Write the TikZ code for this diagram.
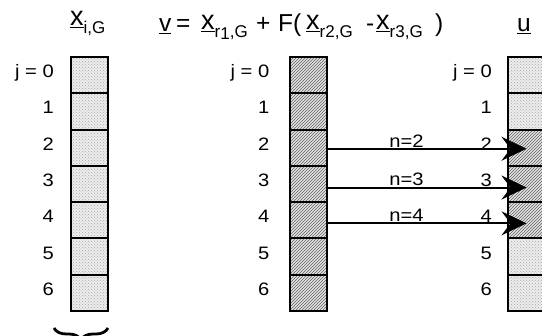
\documentclass[tikz,border=0pt]{standalone}
\usepackage{fontspec}
\setmainfont{Liberation Sans}
\newfontfamily\labfont[FakeStretch=1.12]{Liberation Sans}
\usetikzlibrary{patterns,arrows.meta,decorations.pathreplacing}

% underlined symbol with a firm rule
\newcommand\ulin[1]{\setbox0\hbox{#1}\rlap{\rule[-2.2pt]{\wd0}{1.3pt}}\box0}
% lowered, smaller subscript text
\newcommand\subtxt[1]{\raisebox{-8pt}{\fontsize{17}{17}\selectfont #1}}
% underlined vector x with a subscript
\newcommand\vecsub[1]{\ulin{\fontsize{27}{27}\selectfont x}\subtxt{#1}}

\begin{document}
\begin{tikzpicture}[x=1pt,y=-1pt,
  cell/.style={draw, line width=2pt, minimum width=37pt, minimum height=36.3pt,
    inner sep=0pt, outer sep=0pt},
  dotcell/.style={cell, preaction={fill=gray!14}, pattern=crosshatch dots,
    pattern color=gray!70},
  hatchcell/.style={cell, preaction={fill=gray!22}, pattern=north east lines,
    pattern color=black!62},
  idx/.style={font=\labfont\fontsize{18}{18}\selectfont, anchor=base east, inner sep=0pt},
  hdr/.style={font=\fontsize{24.5}{24.5}\selectfont, anchor=base west, inner sep=0pt},
  arr/.style={line width=2pt, -{Stealth[length=25pt,width=24pt,inset=9pt]}},
  nlab/.style={font=\labfont\fontsize{18}{18}\selectfont, inner sep=0.5pt, above},
]
\useasboundingbox (0,0) rectangle (542,336);
\clip (0,0) rectangle (542,336);

% header: target vector, mutation formula, trial vector
\node[hdr] (hx) at (70,26) {\vecsub{i,G}};
\node[hdr] (hv) at (159,32) {\ulin{v}};
\node[hdr] (heq) at (176,32) {=};
\node[hdr] (hx1) at (201,30) {\vecsub{r\raisebox{-2pt}{1},G}};
\node[hdr] (hplus) at (256,32) {+};
\node[hdr] (hF) at (278,32) {F(};
\node[hdr] (hx2) at (306,30) {\vecsub{r2,G}};
\node[hdr] (hminus) at (366,32) {-};
\node[hdr] (hx3) at (376,30) {\vecsub{r3,G}};
\node[hdr] (hclose) at (435,32) {)};
\node[hdr] (hu) at (517,32) {\ulin{u}};

% three parameter columns
\foreach \j in {0,...,6} {
  \node[dotcell] (a\j) at (89.5,{75.15+36.3*\j}) {};
  \node[hatchcell] (b\j) at (308,{75.15+36.3*\j}) {};
}
\foreach \j/\s in {0/dotcell,1/dotcell,2/hatchcell,3/hatchcell,4/hatchcell,5/dotcell,6/dotcell}
  \node[\s] (c\j) at (526.5,{75.15+36.3*\j}) {};

% row indices
\foreach \j/\t in {0/{j = 0},1/1,2/2,3/3,4/4,5/5,6/6} {
  \node[idx] at ([xshift=-17pt,yshift=-2.5pt]a\j.west) {\t};
  \node[idx] at ([xshift=-20pt,yshift=-2.5pt]b\j.west) {\t};
  \node[idx] at ([xshift=-16pt,yshift=-2.5pt]c\j.west) {\t};
}

% crossover arrows
\foreach \j/\dy in {2/-1,3/-3.5,4/-3}
  \draw[arr] ([yshift=\dy pt]b\j.east) -- node[nlab,pos=0.4] {n=\j} ([yshift=\dy pt]c\j.center);

% brace below the first column
\draw[line width=2.8pt, decorate, decoration={brace, amplitude=12pt}] (108,328) -- (54,328);
\end{tikzpicture}
\end{document}
